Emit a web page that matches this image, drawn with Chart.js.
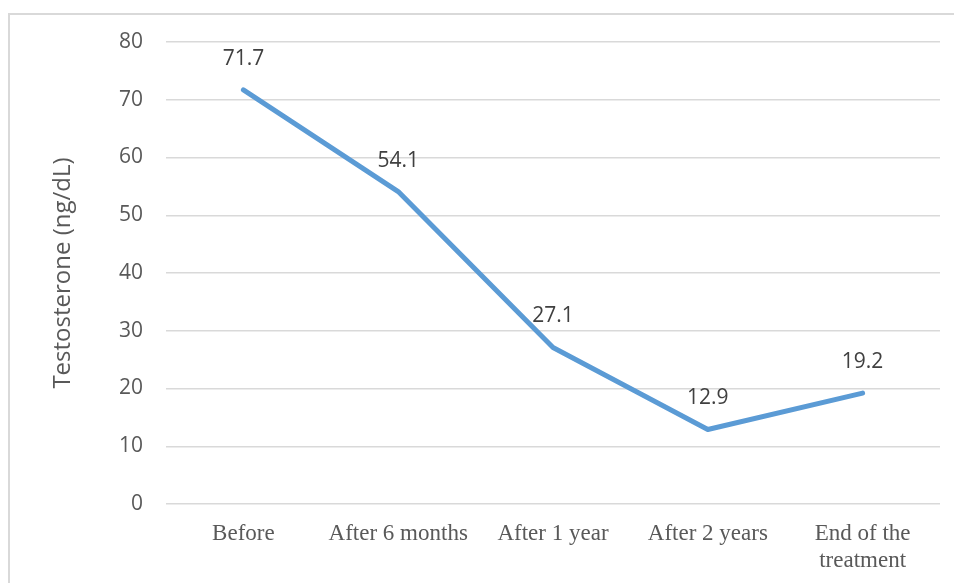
<!DOCTYPE html>
<html>
<head>
<meta charset="utf-8">
<style>
  html, body { margin: 0; padding: 0; background: #ffffff; }
  canvas { display: block; }
</style>
<script src="https://cdn.jsdelivr.net/npm/chart.js@4/dist/chart.umd.min.js"></script>
</head>
<body>
<canvas id="chart" width="954" height="583"></canvas>
<script>
// Testosterone levels over the course of treatment
const categories = ['Before', 'After 6 months', 'After 1 year', 'After 2 years', ['End of the', 'treatment']];
const testosterone = [71.7, 54.1, 27.1, 12.9, 19.2];
const yTicks = { min: 0, max: 80, step: 10 };
const yTitle = 'Testosterone (ng/dL)';

const sansFont = '"Open Sans", "DejaVu Sans", sans-serif';
const serifFont = '"Liberation Serif", "Times New Roman", serif';

// Thin frame around the chart (left and top edges)
const framePlugin = {
  id: 'frame',
  beforeDraw(chart) {
    const ctx = chart.ctx;
    ctx.save();
    ctx.fillStyle = '#ffffff';
    ctx.fillRect(0, 0, chart.width, chart.height);
    ctx.strokeStyle = '#d9d9d9';
    ctx.lineWidth = 2;
    ctx.beginPath();
    ctx.moveTo(9, chart.height);
    ctx.lineTo(9, 14);
    ctx.lineTo(chart.width, 14);
    ctx.stroke();
    ctx.restore();
  }
};

// Value labels drawn above each point
const valueLabels = {
  id: 'valueLabels',
  afterDatasetsDraw(chart) {
    const ctx = chart.ctx;
    const meta = chart.getDatasetMeta(0);
    const data = chart.data.datasets[0].data;
    ctx.save();
    ctx.font = '21px ' + sansFont;
    ctx.fillStyle = '#404040';
    ctx.textAlign = 'center';
    ctx.textBaseline = 'middle';
    meta.data.forEach((pt, i) => {
      ctx.fillText(data[i].toFixed(1), pt.x, pt.y - 31);
    });
    ctx.restore();
  }
};

new Chart(document.getElementById('chart'), {
  type: 'line',
  data: {
    labels: categories,
    datasets: [{
      data: testosterone,
      borderColor: '#5B9BD5',
      borderWidth: 5,
      borderCapStyle: 'round',
      borderJoinStyle: 'round',
      pointRadius: 0,
      pointHoverRadius: 0,
      tension: 0,
      fill: false
    }]
  },
  options: {
    responsive: false,
    animation: false,
    layout: { padding: { left: 0, right: 14, top: 42, bottom: 0 } },
    plugins: {
      legend: { display: false },
      tooltip: { enabled: false }
    },
    scales: {
      x: {
        offset: true,
        grid: { display: false },
        border: { display: false },
        ticks: {
          color: '#595959',
          font: { family: serifFont, size: 23, lineHeight: 1.18 },
          padding: 8,
          maxRotation: 0,
          autoSkip: false
        },
        afterFit(scale) { scale.height = 79; }
      },
      y: {
        min: yTicks.min,
        max: yTicks.max,
        border: { display: false },
        grid: { color: '#d9d9d9', lineWidth: 1.5, drawTicks: false },
        ticks: {
          stepSize: yTicks.step,
          color: '#595959',
          font: { family: sansFont, size: 21 },
          padding: 23
        },
        title: {
          display: true,
          text: yTitle,
          color: '#595959',
          font: { family: sansFont, size: 24, weight: 'normal' },
          padding: { top: 49, bottom: 0 }
        },
        afterFit(scale) { scale.width = 166; }
      }
    }
  },
  plugins: [framePlugin, valueLabels]
});
</script>
</body>
</html>
